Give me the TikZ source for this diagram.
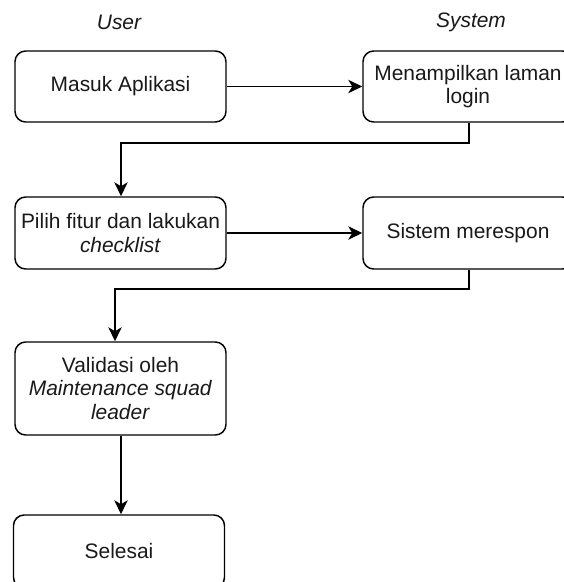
\documentclass[tikz,border=0pt]{standalone}
\usepackage{fontspec}
\setmainfont{Liberation Sans}
\usetikzlibrary{arrows.meta}
\begin{document}
\begin{tikzpicture}[x=0.75pt,y=-0.75pt,
  box/.style={draw=black,line width=1.1pt,rounded corners=8pt,minimum width=158.25pt,minimum height=53.25pt,inner sep=0pt,align=center,font=\fontsize{15.7}{17.5}\selectfont,text=black!90},
  lane/.style={font=\fontsize{15.7}{17.5}\selectfont\itshape,text=black!90,inner sep=0pt},
  conn/.style={line width=1.1pt,-{Stealth[length=10.5pt,width=10pt,inset=3pt]}}]
\useasboundingbox (0,0) rectangle (564,582);
\clip (0,0) rectangle (564,582);
\node[lane] (user) at (119,22) {User};
\node[lane] (sys) at (471,22) {System};
% boxes
\node[box] (a) at (120.5,86.5) {Masuk Aplikasi};
\node[box,minimum width=157.5pt] (b) at (468,86.5) {Menampilkan laman\\login};
\node[box,minimum height=54pt] (c) at (120.5,233) {Pilih fitur dan lakukan\\\textit{checklist}};
\node[box,minimum width=157.5pt,minimum height=54pt] (d) at (468,233) {Sistem merespon};
\node[box,minimum height=69.75pt] (e) at (120.5,388.5) {Validasi oleh\\\textit{Maintenance squad}\\\textit{leader}};
\node[box,minimum height=54.75pt] (f) at (119,551.5) {Selesai};
% connectors
\coordinate (b1) at (469,143);
\coordinate (b2) at (121,143);
\coordinate (d1) at (469,289);
\coordinate (d2) at (115,289);
\coordinate (ef) at (121,0);
\draw[conn] (a.east) -- (b.west |- a.east);
\draw[conn] (b.south -| b1) -- (b1) -- (b2) -- (c.north -| b2);
\draw[conn] (c.east) -- (d.west |- c.east);
\draw[conn] (d.south -| d1) -- (d1) -- (d2) -- (e.north -| d2);
\draw[conn] (e.south -| ef) -- (f.north -| ef);
\end{tikzpicture}
\end{document}
